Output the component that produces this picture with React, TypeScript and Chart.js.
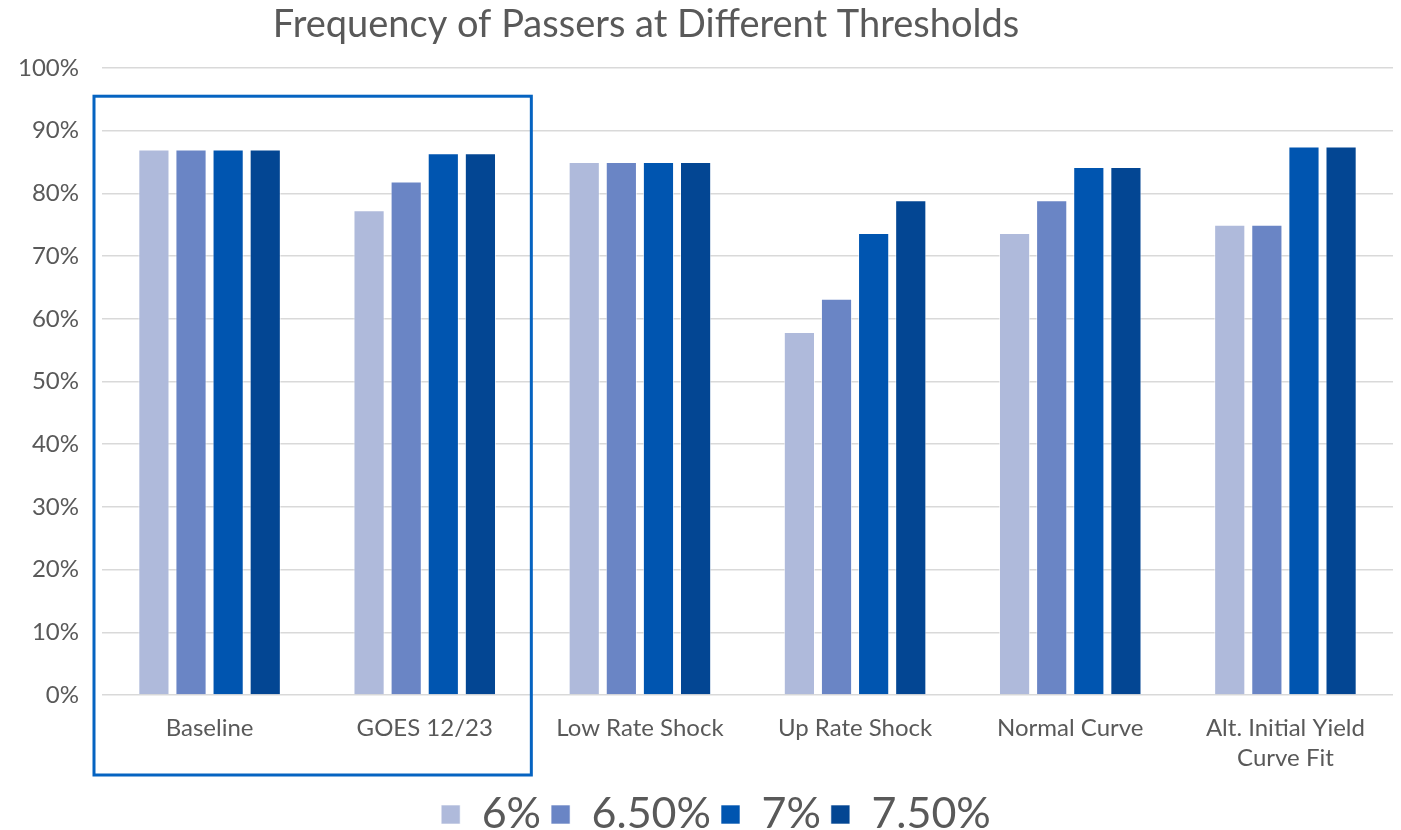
import React, { useEffect, useRef } from "react";
import { Chart, registerables } from "chart.js";

Chart.register(...registerables);

const categories: (string | string[])[] = [
  "Baseline",
  "GOES 12/23",
  "Low Rate Shock",
  "Up Rate Shock",
  "Normal Curve",
  ["Alt. Initial Yield", "Curve Fit"],
];
const seriesNames = ["6%", "6.50%", "7%", "7.50%"];
const s6 = [87, 77.3, 85, 57.9, 73.7, 75];
const s65 = [87, 81.9, 85, 63.2, 78.9, 75];
const s7 = [87, 86.4, 85, 73.7, 84.2, 87.5];
const s75 = [87, 86.4, 85, 78.9, 84.2, 87.5];
const colors = ["#AFBADB", "#6A85C5", "#0055B0", "#034693"];
const yTicks = [0, 10, 20, 30, 40, 50, 60, 70, 80, 90, 100];
const titleText = "Frequency of Passers at Different Thresholds";
const FONT = "Lato, 'Open Sans', sans-serif";
const TEXT = "#595959";

const titlePlugin = {
  id: "customTitle",
  afterDraw(chart: any) {
    const ctx = chart.ctx;
    ctx.save();
    ctx.font = `38px ${FONT}`;
    ctx.fillStyle = TEXT;
    ctx.textAlign = "center";
    ctx.textBaseline = "middle";
    ctx.fillText(titleText, 646, 25);
    ctx.restore();
  },
};

const legendShiftPlugin = {
  id: "legendShift",
  afterLayout(chart: any) {
    const lg = chart.legend;
    if (lg) {
      lg.left += 22;
      lg.right += 22;
    }
  },
};

const boxPlugin = {
  id: "highlightBox",
  afterDraw(chart: any) {
    const x = chart.scales.x;
    const y = chart.scales.y;
    const ctx = chart.ctx;
    const cw = x.getPixelForValue(1) - x.getPixelForValue(0);
    const left = x.getPixelForValue(0) - cw / 2 - 8;
    const right = x.getPixelForValue(1) + cw / 2 - 1;
    const top = y.getPixelForValue(95.5);
    const bottom = chart.chartArea.bottom + 80;
    ctx.save();
    ctx.strokeStyle = "#0563C1";
    ctx.lineWidth = 3;
    ctx.strokeRect(left, top, right - left, bottom - top);
    ctx.restore();
  },
};

export default function App() {
  const ref = useRef<HTMLCanvasElement>(null);
  useEffect(() => {
    document.body.style.margin = "0";
    const series = [s6, s65, s7, s75];
    const chart = new Chart(ref.current!, {
      type: "bar",
      data: {
        labels: categories,
        datasets: series.map((d, i) => ({
          label: seriesNames[i],
          data: d,
          backgroundColor: colors[i],
          borderColor: "rgba(255,255,255,0.6)",
          borderWidth: 1,
          categoryPercentage: 0.69,
          barPercentage: 0.84,
        })),
      },
      options: {
        responsive: false,
        animation: false,
        layout: { padding: { top: 68, left: -5, right: 8, bottom: -16 } },
        plugins: {
          title: { display: false },
          tooltip: { enabled: false },
          legend: {
            position: "bottom",
            labels: {
              boxWidth: 19,
              boxHeight: 19,
              padding: 10,
              color: TEXT,
              font: { family: FONT, size: 43 },
            },
          },
        },
        scales: {
          x: {
            grid: { display: false },
            border: { display: false },
            ticks: {
              color: TEXT,
              font: { family: FONT, size: 24, lineHeight: 1.25 },
              padding: 10,
              maxRotation: 0,
              autoSkip: false,
            },
          },
          y: {
            min: 0,
            max: 100,
            afterBuildTicks: (axis: any) => {
              axis.ticks = yTicks.map((v) => ({ value: v }));
            },
            grid: { color: "#D9D9D9", lineWidth: 1.5, drawTicks: false },
            border: { display: false },
            ticks: {
              color: TEXT,
              font: { family: FONT, size: 24 },
              padding: 23,
              callback: (v: any) => `${v}%`,
            },
          },
        },
      },
      plugins: [titlePlugin, boxPlugin, legendShiftPlugin],
    });
    return () => chart.destroy();
  }, []);
  return (
    <div style={{ position: "absolute", left: 0, top: 0, width: 1401, height: 830 }}>
      <canvas ref={ref} width={1401} height={830} />
    </div>
  );
}
